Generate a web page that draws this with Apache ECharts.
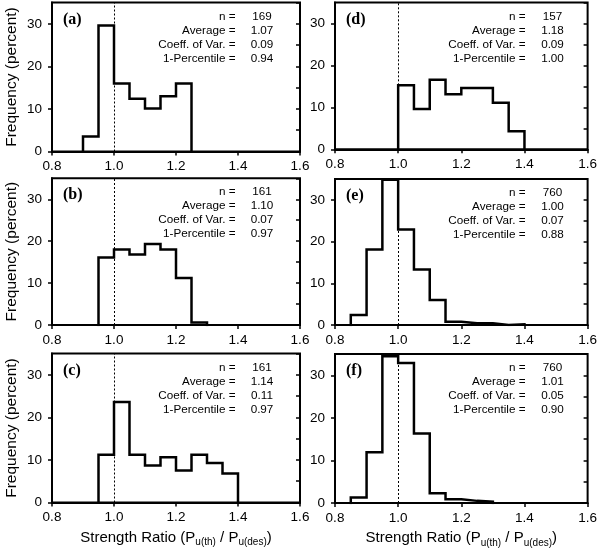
<!DOCTYPE html>
<html>
<head>
<meta charset="utf-8">
<script src="https://cdn.jsdelivr.net/npm/echarts@6/dist/echarts.min.js"></script>
<style>
html,body{margin:0;padding:0;background:#fff;}
#chart{width:600px;height:549px;}
</style>
</head>
<body>
<div id="chart"></div>
<script>
// ---------- data ----------
const binWidth = 0.05;
const xTickLabels = ['0.8', '1.0', '1.2', '1.4', '1.6'];
const yTickLabels = ['0', '10', '20', '30'];
const yMax = 35;
const refRatio = 1.0;

const panelLetters = ['(a)', '(b)', '(c)', '(d)', '(e)', '(f)'];
const binStart = [0.90, 0.95, 0.95, 1.00, 0.85, 0.85];
const freqA = [3.5, 29.6, 16.0, 12.4, 10.1, 13.0, 16.0];
const freqB = [16.1, 18.0, 16.8, 19.3, 18.0, 11.2, 0.6];
const freqC = [11.2, 23.6, 11.2, 8.7, 10.6, 7.5, 11.2, 9.3, 6.8];
const freqD = [15.3, 9.6, 16.6, 13.1, 14.6, 14.6, 11.1, 4.3];
const freqE = [2.4, 18.1, 34.8, 22.9, 13.3, 6.0, 0.8, 0.4, 0.4, 0.0, 0.15];
const freqF = [1.3, 11.9, 34.5, 32.9, 16.3, 2.3, 0.9, 0.5, 0.3];
const panelFreqs = [freqA, freqB, freqC, freqD, freqE, freqF];

const statLabels = ['n =', 'Average =', 'Coeff. of Var. =', '1-Percentile ='];
const statN   = ['169', '161', '161', '157', '760', '760'];
const statAvg = ['1.07', '1.10', '1.14', '1.18', '1.00', '1.01'];
const statCov = ['0.09', '0.07', '0.11', '0.09', '0.07', '0.05'];
const statP1  = ['0.94', '0.97', '0.97', '1.00', '0.88', '0.90'];

const yAxisTitle = 'Frequency (percent)';

// ---------- layout ----------
const grids = [
  {left: 52,  top: 2.5,   width: 248,   height: 149},
  {left: 52,  top: 178.3, width: 248,   height: 146.7},
  {left: 52,  top: 353.5, width: 248,   height: 149},
  {left: 335, top: 2.5,   width: 253.5, height: 146.8},
  {left: 335, top: 179,   width: 253.5, height: 146},
  {left: 335, top: 354,   width: 253.5, height: 149}
];

const xMin = parseFloat(xTickLabels[0]);
const xMax = parseFloat(xTickLabels[xTickLabels.length - 1]);
const xStep = parseFloat(xTickLabels[1]) - parseFloat(xTickLabels[0]);
const yStep = parseFloat(yTickLabels[1]);

function outline(start, vals) {
  const pts = [];
  const edge = i => Math.round((start + i * binWidth) * 1000) / 1000;
  pts.push([edge(0), 0]);
  vals.forEach((v, i) => {
    pts.push([edge(i), v]);
    pts.push([edge(i + 1), v]);
  });
  pts.push([edge(vals.length), 0]);
  return pts;
}

const FONT = 'Liberation Sans, Arial, sans-serif';
const xAxes = [], yAxes = [], series = [], graphics = [];

grids.forEach((g, i) => {
  const isBottom = (i === 2 || i === 5);
  const isLeftCol = i < 3;
  // main x axis (outward ticks + labels)
  xAxes.push({
    type: 'value', gridIndex: i, min: xMin, max: xMax, interval: xStep,
    axisLine: {show: true, lineStyle: {color: '#000', width: 2}},
    axisTick: {show: true, inside: false, length: 4, lineStyle: {color: '#000', width: 1.5}},
    axisLabel: {show: true, color: '#000', fontFamily: FONT, fontSize: 13.5, margin: 8,
      formatter: v => v.toFixed(1)},
    splitLine: {show: false},
    name: isBottom ? '{m|Strength Ratio (P}{s|u(th)}{m| / P}{s|u(des)}{m|)}' : '',
    nameLocation: 'middle', nameGap: 25,
    nameTextStyle: {
      color: '#000', fontFamily: FONT,
      rich: {
        m: {fontSize: 15, fontFamily: FONT, color: '#000', lineHeight: 20},
        s: {fontSize: 10, fontFamily: FONT, color: '#000', lineHeight: 10, verticalAlign: 'bottom'}
      }
    }
  });
  // inner ticks x
  xAxes.push({
    type: 'value', gridIndex: i, min: xMin, max: xMax, interval: xStep,
    axisLine: {show: false},
    axisTick: {show: true, inside: true, length: 4, lineStyle: {color: '#000', width: 1.5}},
    axisLabel: {show: false}, splitLine: {show: false}
  });
  // main y axis
  yAxes.push({
    type: 'value', gridIndex: i, min: 0, max: yMax, interval: yStep,
    axisLine: {show: true, lineStyle: {color: '#000', width: 2}},
    axisTick: {show: true, inside: false, length: 4, lineStyle: {color: '#000', width: 1.5}},
    axisLabel: {show: true, color: '#000', fontFamily: FONT, fontSize: 13.5, margin: 10,
      showMaxLabel: false,
      formatter: v => (yTickLabels.indexOf(String(v)) >= 0 ? String(v) : '')},
    splitLine: {show: false},
    name: isLeftCol ? yAxisTitle : '',
    nameLocation: 'middle', nameGap: 32,
    nameTextStyle: {color: '#000', fontFamily: FONT, fontSize: 15.5}
  });
  // inner ticks y (every 5)
  yAxes.push({
    type: 'value', gridIndex: i, min: 0, max: yMax, interval: yStep / 2,
    axisLine: {show: false},
    axisTick: {show: true, inside: true, length: 4, lineStyle: {color: '#000', width: 1.5}},
    axisLabel: {show: false}, splitLine: {show: false}
  });

  // reference dashed line
  series.push({
    type: 'line', xAxisIndex: 2 * i, yAxisIndex: 2 * i, data: [], z: 1,
    markLine: {
      silent: true, symbol: ['none', 'none'], animation: false,
      label: {show: false},
      lineStyle: {color: '#000', width: 1, type: [2, 2]},
      data: [{xAxis: refRatio}]
    }
  });
  // histogram outline
  series.push({
    type: 'line', xAxisIndex: 2 * i, yAxisIndex: 2 * i, z: 3,
    data: outline(binStart[i], panelFreqs[i]),
    showSymbol: false, symbol: 'none',
    lineStyle: {color: '#000', width: 2.5, join: 'miter', cap: 'square'},
    animation: false
  });

  // panel letter
  graphics.push({
    type: 'text', left: g.left + 11, top: g.top + 9,
    style: {text: panelLetters[i], fill: '#000',
      font: 'bold 16px "Liberation Serif", "Times New Roman", serif'}
  });
  // stats block
  const labX = isLeftCol ? 235.5 : 525.5;
  const valX = isLeftCol ? 262 : 552.5;
  const vals = [statN[i], statAvg[i], statCov[i], statP1[i]];
  statLabels.forEach((lab, k) => {
    const yc = g.top + 13.8 + k * 14;
    graphics.push({
      type: 'text', x: labX, y: yc,
      style: {text: lab, fill: '#000', font: '11.7px "Liberation Sans", Arial, sans-serif',
        textAlign: 'right', textVerticalAlign: 'middle'}
    });
    graphics.push({
      type: 'text', x: valX, y: yc,
      style: {text: vals[k], fill: '#000', font: '11.7px "Liberation Sans", Arial, sans-serif',
        textAlign: 'center', textVerticalAlign: 'middle'}
    });
  });
});

const chart = echarts.init(document.getElementById('chart'), null, {renderer: 'canvas'});
chart.setOption({
  animation: false,
  backgroundColor: '#fff',
  grid: grids.map(g => Object.assign({show: true, borderColor: '#000', borderWidth: 2,
    backgroundColor: 'transparent', containLabel: false}, g)),
  xAxis: xAxes,
  yAxis: yAxes,
  series: series,
  graphic: graphics
});
</script>
</body>
</html>
